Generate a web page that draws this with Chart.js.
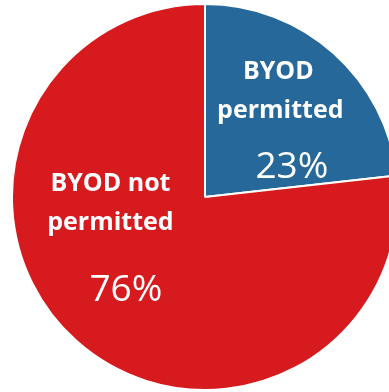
<!DOCTYPE html>
<html lang="en">
<head>
  <meta charset="UTF-8">
  <title>BYOD policy</title>
  <style>
    html, body { margin: 0; padding: 0; background: #fff; overflow: hidden; }
    #wrap { position: absolute; left: 0; top: 0; width: 410px; height: 394px; }
  </style>
</head>
<body>
  <div id="wrap"><canvas id="byod"></canvas></div>

  <script src="https://cdn.jsdelivr.net/npm/chart.js@4/dist/chart.umd.min.js"></script>
  <script>
    const categories = ['BYOD permitted', 'BYOD not permitted'];
    const shares = [23, 76];
    const labelLines = [['BYOD', 'permitted'], ['BYOD not', 'permitted']];
    const sliceColors = ['#26689A', '#D71A1D'];

    // text placed relative to pie centre, in fractions of the radius
    const labelSpots = [
      { lines: [[0.38, -0.61], [0.39, -0.41]], pct: [0.45, -0.10] },
      { lines: [[-0.49, -0.03], [-0.49, 0.17]], pct: [-0.41, 0.54] }
    ];

    const sliceText = {
      id: 'sliceText',
      afterDatasetsDraw(chart) {
        const ctx = chart.ctx;
        const arc = chart.getDatasetMeta(0).data[0];
        const cx = arc.x, cy = arc.y, r = arc.outerRadius;
        ctx.save();
        ctx.fillStyle = '#fff';
        ctx.textAlign = 'center';
        ctx.textBaseline = 'alphabetic';
        shares.forEach((v, i) => {
          const spot = labelSpots[i];
          ctx.font = 'bold 25px "Open Sans", sans-serif';
          labelLines[i].forEach((line, j) => {
            ctx.fillText(line, cx + spot.lines[j][0] * r, cy + spot.lines[j][1] * r);
          });
          ctx.font = '37px "Open Sans", sans-serif';
          ctx.fillText(v + '%', cx + spot.pct[0] * r, cy + spot.pct[1] * r);
        });
        ctx.restore();
      }
    };

    new Chart(document.getElementById('byod'), {
      type: 'pie',
      data: {
        labels: categories,
        datasets: [{
          data: shares,
          backgroundColor: sliceColors,
          borderColor: '#fff',
          borderWidth: 2
        }]
      },
      options: {
        responsive: true,
        maintainAspectRatio: false,
        animation: false,
        layout: { padding: { left: 11, top: 3, right: 11, bottom: 3 } },
        plugins: {
          legend: { display: false },
          tooltip: { enabled: false }
        }
      },
      plugins: [sliceText]
    });
  </script>
</body>
</html>
